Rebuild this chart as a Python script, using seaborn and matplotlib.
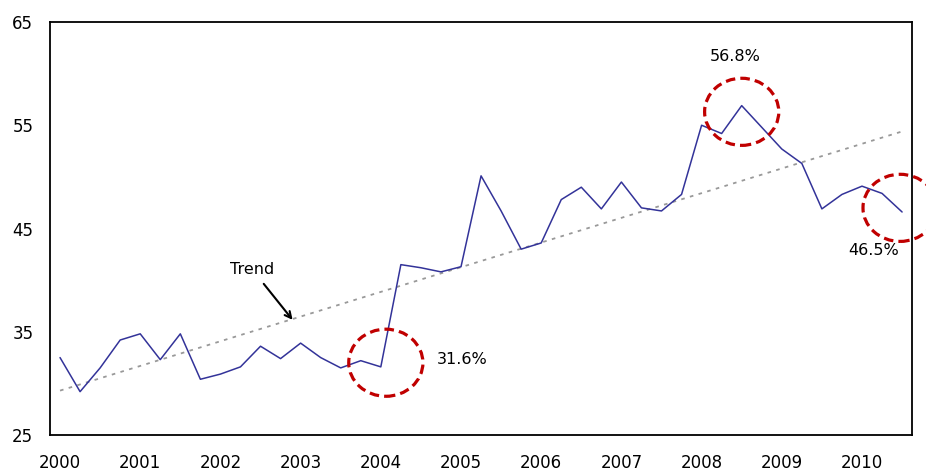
import numpy as np
import pandas as pd
import matplotlib
matplotlib.use('Agg')
import matplotlib.pyplot as plt
import seaborn as sns
from matplotlib.patches import Ellipse

# ── Data (quarterly, 2000 Q1 .. 2010 Q3) ──────────────────────────────────────
values = [32.5, 29.2, 31.5, 34.2, 34.8, 32.3, 34.8, 30.4,
          30.9, 31.6, 33.6, 32.4, 33.9, 32.5, 31.5, 32.2,
          31.6, 41.5, 41.2, 40.8, 41.3, 50.1, 46.7, 43.0,
          43.6, 47.8, 49.0, 46.9, 49.5, 47.0, 46.7, 48.3,
          55.0, 54.2, 56.9, 54.8, 52.7, 51.3, 46.9, 48.3,
          49.1, 48.4, 46.6]
years = list(range(2000, 2011))
y_ticks = [25, 35, 45, 55, 65]

# trend line end points
trend_x = [0, 42]
trend_y = [29.3, 54.4]

# highlighted points: (quarter index, value, label)
callouts = [(16.25, 32.0, '31.6%'), (34.0, 56.3, '56.8%'), (41.9, 47.0, '46.5%')]

df = pd.DataFrame({'q': np.arange(len(values)), 'value': values})
df_trend = pd.DataFrame({'q': trend_x, 'value': trend_y})

sns.set_style('white')
plt.rcParams['font.family'] = ['DejaVu Sans']
plt.rcParams['text.color'] = 'black'
plt.rcParams['xtick.color'] = 'black'
plt.rcParams['ytick.color'] = 'black'

fig = plt.figure(figsize=(9.26, 4.73), dpi=100)
ax = fig.add_axes([0.054, 0.0803, 0.931, 0.8732])

sns.lineplot(data=df_trend, x='q', y='value', ax=ax, color='#999999',
             linewidth=1.3, linestyle=(0, (2, 3)))
sns.lineplot(data=df, x='q', y='value', ax=ax, color='#333399', linewidth=1.1)

# ── Circles around key points ─────────────────────────────────────────────────
for cx, cy, _ in callouts:
    ax.add_patch(Ellipse((cx, cy), width=3.7, height=6.5, fill=False,
                         edgecolor='#C00000', linewidth=2.3,
                         linestyle=(0, (3, 1.6)), clip_on=False, zorder=5))

ax.text(18.8, 32.3, '31.6%', fontsize=11.5, ha='left', va='center')
ax.text(33.7, 61.7, '56.8%', fontsize=11.5, ha='center', va='center')
ax.text(40.6, 42.9, '46.5%', fontsize=11.5, ha='center', va='center')

ax.annotate('Trend', xy=(11.6, 36.15), xytext=(9.6, 41.0),
            fontsize=11.5, ha='center', va='center',
            arrowprops=dict(arrowstyle='->', color='black', lw=1.5,
                            shrinkA=3, shrinkB=0))

# ── Axes ──────────────────────────────────────────────────────────────────────
ax.set_xlim(-0.5, 42.5)
ax.set_ylim(25, 65)
ax.set_yticks(y_ticks)
ax.set_xticks([4 * i for i in range(len(years))])
ax.set_xticklabels([str(y) for y in years])
ax.set_xlabel('')
ax.set_ylabel('')
ax.tick_params(axis='y', direction='in', length=6, width=1.2, pad=12, labelsize=12)
ax.tick_params(axis='x', length=0, pad=14, labelsize=12)
for s in ax.spines.values():
    s.set_visible(True)
    s.set_color('black')
    s.set_linewidth(1.3)

plt.savefig('out.png', dpi=100)
plt.close()
